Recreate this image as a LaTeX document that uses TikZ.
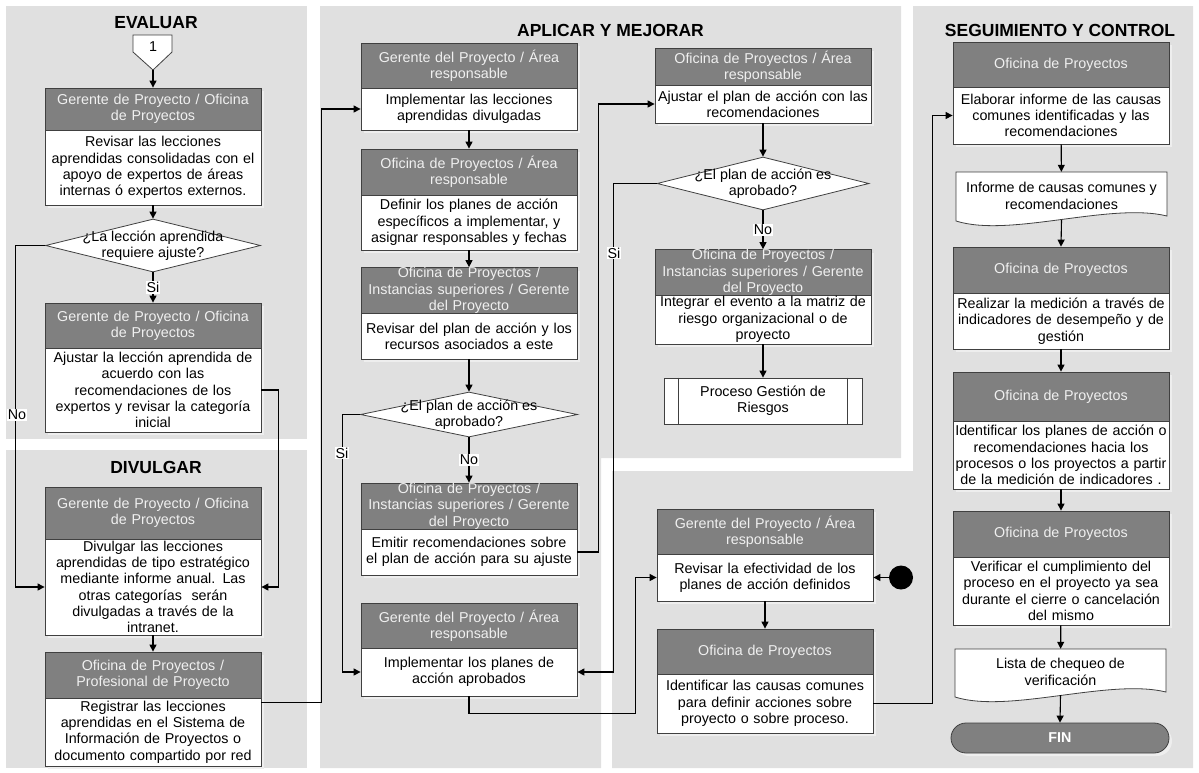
\documentclass[tikz,border=0pt]{standalone}
\usepackage{fontspec}
\setmainfont{Liberation Sans}
\usetikzlibrary{shapes.geometric,arrows.meta,shadows,calc}
\definecolor{panel}{HTML}{E0E0E0}
\definecolor{hdr}{HTML}{808080}
\definecolor{hdrtxt}{HTML}{F0F0F0}
\definecolor{edge}{HTML}{404040}
\definecolor{shade}{HTML}{EEEEEE}
\newcommand{\fs}{\fontsize{14.3}{16.3}\selectfont}
\begin{document}
\begin{tikzpicture}[x=1pt,y=-1pt,
 every node/.style={font=\fs, inner sep=0pt, align=center},
 cshadow/.style={drop shadow={shadow xshift=3pt,shadow yshift=-3pt,fill=shade,draw=none,opacity=1}},
 cell/.style={draw=edge, line width=0.8pt, minimum width=216pt, text width=214pt, minimum height=#1, cshadow},
 hdrbox/.style={cell=#1, fill=hdr, text=hdrtxt},
 bodybox/.style={cell=#1, fill=white, text=black},
 arr/.style={draw=black, line width=1.1pt, -{Triangle[length=7pt,width=7pt]}},
 lbl/.style={fill=white, inner sep=1pt},
 title/.style={font=\fontsize{17.5}{20}\selectfont\bfseries},
 dia/.style={diamond, draw=edge, line width=0.8pt, fill=white, inner sep=0pt},
 docline/.style={draw=edge, line width=0.8pt, fill=white},
]
\useasboundingbox (0,0) rectangle (1199,772);
% panels
\fill[panel] (6,6) rectangle (307,439);
\fill[panel] (6,450) rectangle (307,768);
\fill[panel] (320,6) -- (901,6) -- (901,458) -- (601,458) -- (601,768) -- (320,768) -- cycle;
\fill[panel] (913,6) -- (1193,6) -- (1193,768) -- (612,768) -- (612,471) -- (913,471) -- cycle;

% ===== EVALUAR =====
\node[title] (tEval) at (156,23) {EVALUAR};
\draw[draw=edge, line width=0.8pt, fill=white] (133,35) -- (172,35) -- (172,52) -- (153,70) -- (133,52) -- cycle;
\node (con1) at (153,47) {1};
\coordinate (con1tip) at (153,70);
\node[hdrbox=42pt] (h1) at (153,109) {Gerente de Proyecto / Oficina\\de Proyectos};
\node[bodybox=75pt] (b1) at (153,167.5) {Revisar las lecciones\\aprendidas consolidadas con el\\apoyo de expertos de áreas\\internas ó expertos externos.};
\node[dia, minimum width=215pt, minimum height=53pt] (d1) at (153,245.5) {};
\node (d1t) at (153,246) {¿La lección aprendida\\requiere ajuste?};
\node[hdrbox=45pt] (h2) at (153,325.5) {Gerente de Proyecto / Oficina\\de Proyectos};
\node[bodybox=84pt] (b2) at (153,390) {Ajustar la lección aprendida de\\acuerdo con las\\recomendaciones de los\\expertos y revisar la categoría\\inicial};

% ===== DIVULGAR =====
\node[title] (tDiv) at (156,467) {DIVULGAR};
\node[hdrbox=52pt] (h3) at (153,513) {Gerente de Proyecto / Oficina\\de Proyectos};
\node[bodybox=96pt] (b3) at (153,587) {Divulgar las lecciones\\aprendidas de tipo estratégico\\mediante informe anual. Las\\otras categorías\ \ serán\\divulgadas a través de la\\intranet.};
\node[hdrbox=46pt] (h4) at (153,675) {Oficina de Proyectos /\\Profesional de Proyecto};
\node[bodybox=68pt] (b4) at (153,732) {Registrar las lecciones\\aprendidas en el Sistema de\\Información de Proyectos o\\documento compartido por red};

% ===== APLICAR Y MEJORAR =====
\node[title] (tApl) at (610.5,30) {APLICAR Y MEJORAR};
\node[hdrbox=45pt] (h5) at (469,65.5) {Gerente del Proyecto / Área\\responsable};
\node[bodybox=42pt] (b5) at (469,109) {Implementar las lecciones\\aprendidas divulgadas};
\node[hdrbox=46pt] (h6) at (469,172) {Oficina de Proyectos / Área\\responsable};
\node[bodybox=55pt] (b6) at (469,222.5) {Definir los planes de acción\\específicos a implementar, y\\asignar responsables y fechas};
\node[hdrbox=45pt] (h7) at (469,290.5) {Oficina de Proyectos /\\Instancias superiores / Gerente\\del Proyecto};
\node[bodybox=46pt] (b7) at (469,336) {Revisar del plan de acción y los\\recursos asociados a este};
\node[dia, minimum width=217pt, minimum height=45pt] (d2) at (469,414.5) {};
\node (d2t) at (469,415) {¿El plan de acción es\\aprobado?};
\node[hdrbox=46pt] (h8) at (469,506) {Oficina de Proyectos /\\Instancias superiores / Gerente\\del Proyecto};
\node[bodybox=46pt] (b8) at (469,552) {Emitir recomendaciones sobre\\el plan de acción para su ajuste};
\node[hdrbox=45pt] (h10) at (469,625.5) {Gerente del Proyecto / Área\\responsable};
\node[bodybox=48pt] (b10) at (469,672) {Implementar los planes de\\acción aprobados};

\node[hdrbox=37pt] (h9) at (763,66.5) {Oficina de Proyectos / Área\\responsable};
\node[bodybox=38pt] (b9) at (763,104) {Ajustar el plan de acción con las\\recomendaciones};
\node[dia, minimum width=212pt, minimum height=53pt] (d3) at (763,183.5) {};
\node (d3t) at (763,184) {¿El plan de acción es\\aprobado?};
\node[hdrbox=45pt] (h11) at (763,272.5) {Oficina de Proyectos /\\Instancias superiores / Gerente\\del Proyecto};
\node[bodybox=49pt] (b11) at (763,319.5) {Integrar el evento a la matriz de\\riesgo organizacional o de\\proyecto};
\node[draw=edge, line width=0.8pt, fill=white, minimum width=198pt, minimum height=46pt] (proc) at (763,401) {Proceso Gestión de\\Riesgos};
\draw[draw=edge, line width=0.8pt] ([xshift=15pt]proc.north west) -- ([xshift=15pt]proc.south west);
\draw[draw=edge, line width=0.8pt] ([xshift=-15pt]proc.north east) -- ([xshift=-15pt]proc.south east);

\node[hdrbox=45pt] (h12) at (765,531.5) {Gerente del Proyecto / Área\\responsable};
\node[bodybox=47pt] (b12) at (765,577.5) {Revisar la efectividad de los\\planes de acción definidos};
\node[hdrbox=45pt] (h13) at (765,651.5) {Oficina de Proyectos};
\node[bodybox=59pt] (b13) at (765,703.5) {Identificar las causas comunes\\para definir acciones sobre\\proyecto o sobre proceso.};
\node[circle, fill=black, minimum size=24pt] (dot) at (901,577.5) {};

% ===== SEGUIMIENTO Y CONTROL =====
\node[title] (tSeg) at (1060,30) {SEGUIMIENTO Y CONTROL};
\node[hdrbox=45pt] (h14) at (1061,64.5) {Oficina de Proyectos};
\node[bodybox=57pt] (b14) at (1061,115.5) {Elaborar informe de las causas\\comunes identificadas y las\\recomendaciones};
\draw[docline] (956,172) -- (1167,172) -- (1167,216) .. controls (1110,202) and (1010,238) .. (956,221) -- cycle;
\node[minimum width=211pt, minimum height=47.6pt] (doc1) at (1061.5,195.8) {Informe de causas comunes y\\recomendaciones};
\node[hdrbox=46pt] (h15) at (1061,270) {Oficina de Proyectos};
\node[bodybox=56pt] (b15) at (1061,321) {Realizar la medición a través de\\indicadores de desempeño y de\\gestión};
\node[hdrbox=49pt] (h16) at (1061,396.5) {Oficina de Proyectos};
\node[bodybox=68pt] (b16) at (1061,455) {Identificar los planes de acción o\\recomendaciones hacia los\\procesos o los proyectos a partir\\de la medición de indicadores .};
\node[hdrbox=46pt] (h17) at (1061,534) {Oficina de Proyectos};
\node[bodybox=68pt] (b17) at (1061,591) {Verificar el cumplimiento del\\proceso en el proyecto ya sea\\durante el cierre o cancelación\\del mismo};
\draw[docline] (955,649) -- (1166,649) -- (1166,692) .. controls (1109,678) and (1009,714) .. (955,697) -- cycle;
\node[minimum width=211pt, minimum height=46pt] (doc2) at (1060.5,672) {Lista de chequeo de\\verificación};
\node[draw=edge, line width=0.8pt, fill=hdr, rounded corners=15pt, minimum width=218pt, minimum height=30pt, text=white, font=\fs\bfseries, cshadow] (fin) at (1060,738) {FIN};

% ===== connectors =====
\draw[arr] (con1tip) -- (h1);
\draw[arr] (b1) -- (d1);
\draw[arr] (d1) -- (h2) node[lbl,midway] (si1) {Si};
\draw[arr] (b2.east) -- ++(17,0) |- (b3.east);
\draw[arr] (d1.west) -- ++(-30,0) |- (b3.west);
\node[lbl] (no1) at (17,415) {No};
\draw[arr] (b3) -- (h4);
\draw[arr] ([yshift=-5pt]b4.north east) -- ++(60,0) |- (b5.west);

\draw[arr] (b5) -- (h6);
\draw[arr] (b6) -- (h7);
\draw[arr] (b7) -- (d2);
\draw[arr] (d2) -- (h8) node[lbl,midway] (no2) {No};
\draw[arr] (b8.east) -- ++(21,0) |- (b9.west);
\draw[arr] (d2.west) -- ++(-18,0) |- (b10.west);
\node[lbl] (si2) at (342,453) {Si};
\draw[arr] (b10.south) -- ++(0,17) -| ($(b12.west)+(-21,0)$) -- (b12.west);

\draw[arr] (b9) -- (d3);
\draw[arr] (d3) -- (h11) node[lbl,midway] (no3) {No};
\draw[arr] (b11) -- (proc);
\draw[arr] (d3.west) -- ++(-43,0) |- (b10.east);
\node[lbl] (si3) at (614,253) {Si};

\draw[arr] (dot) -- (b12.east);
\draw[arr] (b12) -- (h13);
\draw[arr] (b13.east) -- ++(59,0) |- (b14.west);

\draw[arr] (b14) -- (doc1);
\draw[arr] (doc1.south) -- (h15.north);
\draw[arr] (b15) -- (h16);
\draw[arr] (b16) -- (h17);
\draw[arr] (b17) -- (doc2);
\draw[arr] (doc2.south) -- (fin.north);
\end{tikzpicture}
\end{document}
